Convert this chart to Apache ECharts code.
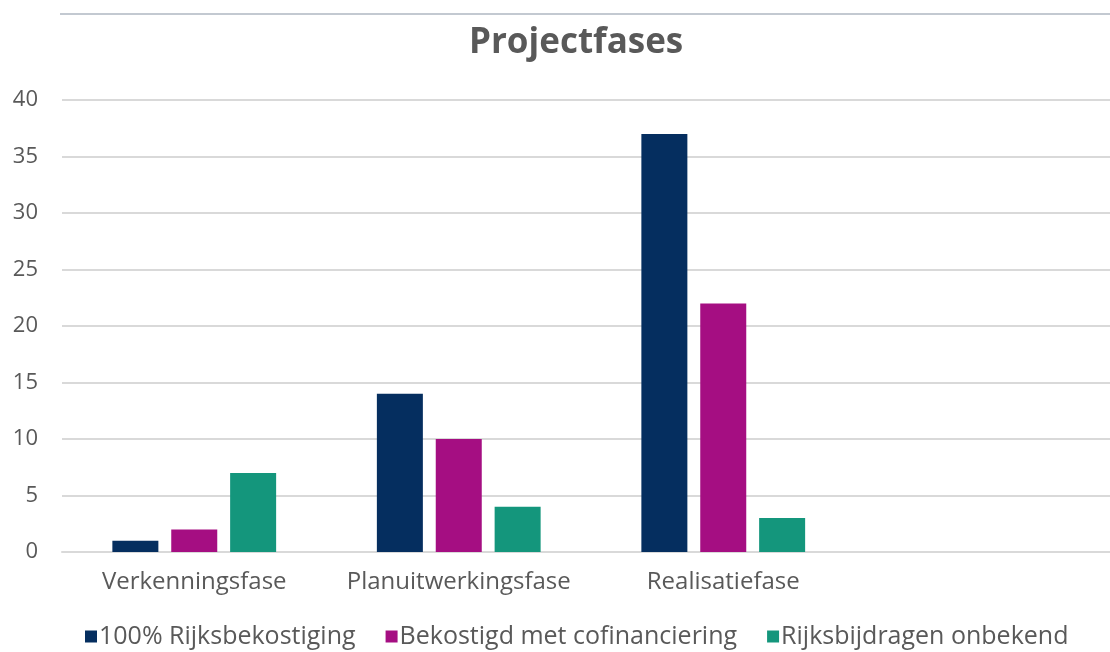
<!DOCTYPE html>
<html>
<head>
<meta charset="utf-8">
<script src="https://cdn.jsdelivr.net/npm/echarts@6/dist/echarts.min.js"></script>
<style>
  html, body { margin: 0; padding: 0; background: #fff; }
  #chart { width: 1110px; height: 652px; }
</style>
</head>
<body>
<div id="chart"></div>
<script>
// categories and values
var categories = ['Verkenningsfase', 'Planuitwerkingsfase', 'Realisatiefase', ''];
var rijks100 = [1, 14, 37, null];
var cofin = [2, 10, 22, null];
var onbekend = [7, 4, 3, null];
var seriesNames = ['100% Rijksbekostiging', 'Bekostigd met cofinanciering', 'Rijksbijdragen onbekend'];
var colors = ['#052E5F', '#A50E82', '#14967C'];

var font = 'Open Sans';
var chart = echarts.init(document.getElementById('chart'));

function bar(name, data, color) {
  return {
    name: name,
    type: 'bar',
    data: data,
    barWidth: 46,
    barGap: '28%',
    itemStyle: { color: color }
  };
}

chart.setOption({
  animation: false,
  textStyle: { fontFamily: font },
  title: {
    text: 'Projectfases',
    left: 464,
    top: 21,
    textStyle: { fontFamily: font, fontSize: 35, fontWeight: 'bold', color: '#595959' }
  },
  graphic: [{
    type: 'line',
    shape: { x1: 60, y1: 14, x2: 1110, y2: 14 },
    style: { stroke: '#C3C9D1', lineWidth: 2 }
  }],
  legend: {
    top: 619,
    left: 80,
    itemWidth: 12,
    itemHeight: 12,
    itemGap: 30,
    icon: 'rect',
    textStyle: { fontFamily: font, fontSize: 25, color: '#595959', padding: [0, 0, 0, -3] },
    data: seriesNames
  },
  grid: { left: 62, width: 1058, top: 100, height: 452, outerBoundsMode: 'none' },
  xAxis: {
    type: 'category',
    data: categories,
    axisLine: { lineStyle: { color: '#D9D9D9', width: 2 } },
    axisTick: { show: false },
    axisLabel: { fontSize: 24, color: '#595959', margin: 18, interval: 0 }
  },
  yAxis: {
    type: 'value',
    min: 0,
    max: 40,
    interval: 5,
    axisLine: { show: false },
    axisTick: { show: false },
    splitLine: { lineStyle: { color: '#D9D9D9', width: 2 } },
    axisLabel: { fontSize: 22, color: '#595959', margin: 24 }
  },
  series: [
    bar(seriesNames[0], rijks100, colors[0]),
    bar(seriesNames[1], cofin, colors[1]),
    bar(seriesNames[2], onbekend, colors[2])
  ]
});
</script>
</body>
</html>
